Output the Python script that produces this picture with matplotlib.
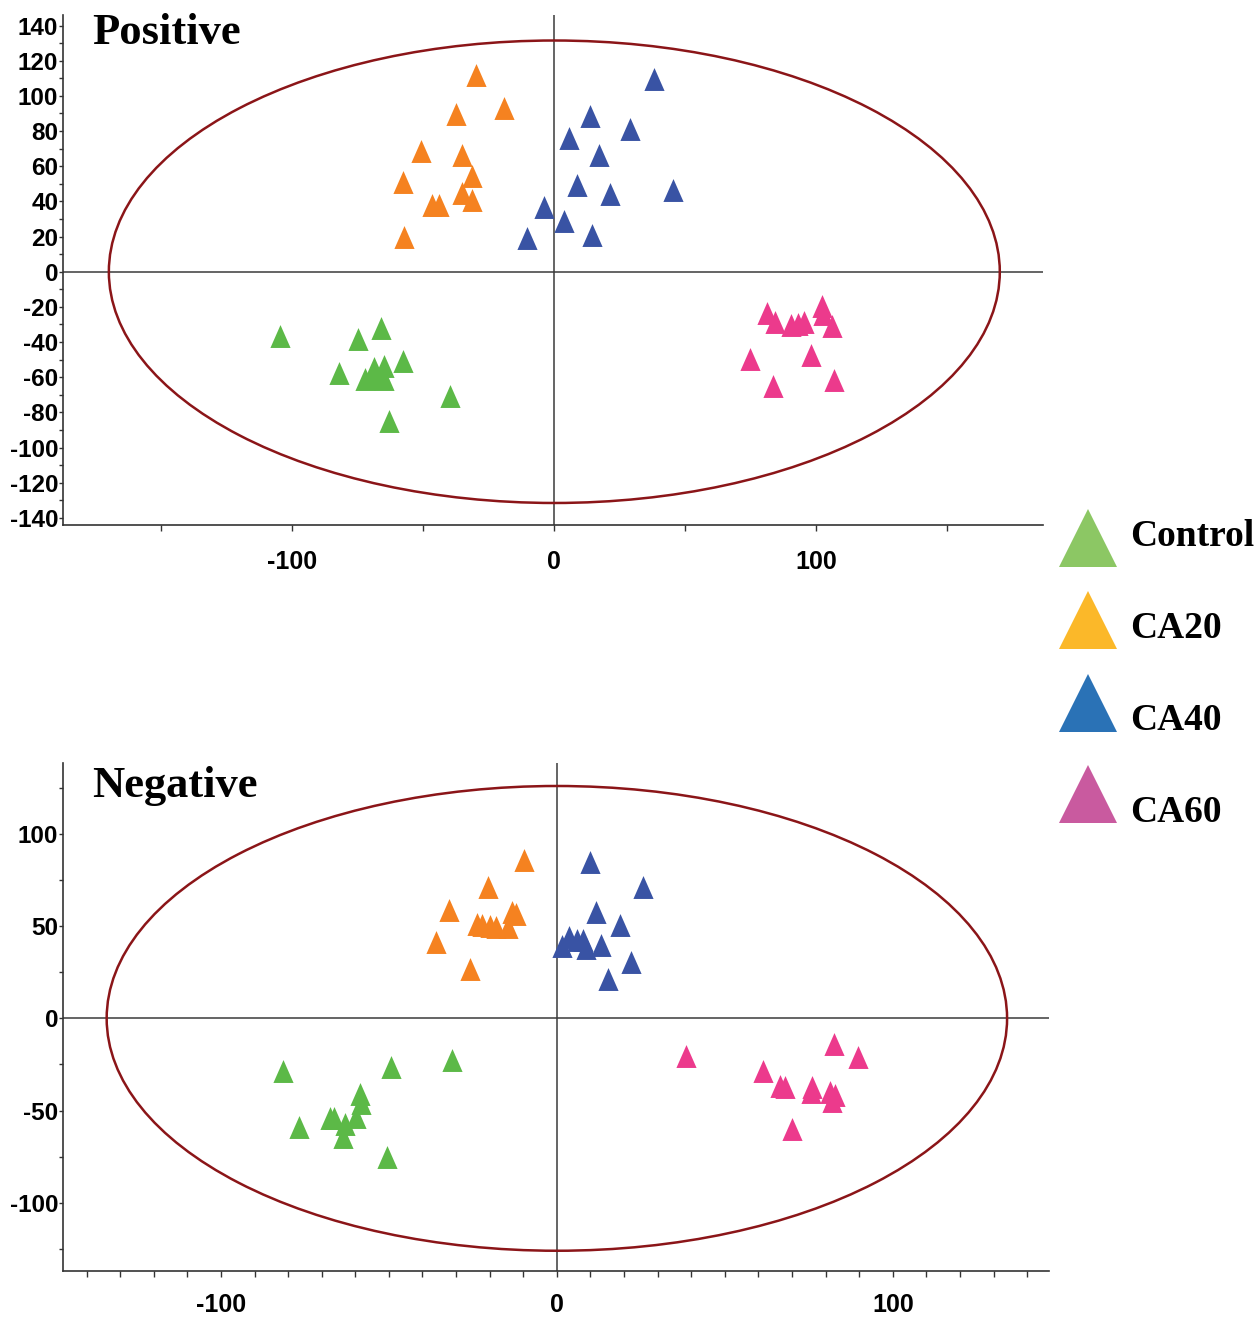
import numpy as np
import matplotlib
matplotlib.use("Agg")
import matplotlib.pyplot as plt
from matplotlib.patches import Ellipse
from matplotlib.lines import Line2D
from matplotlib.ticker import MultipleLocator, FixedLocator

plt.rcParams["font.family"] = ["Liberation Sans", "DejaVu Sans"]
plt.rcParams["font.weight"] = "bold"
plt.rcParams["axes.unicode_minus"] = False

groups = ["Control", "CA20", "CA40", "CA60"]
point_colors = ["#5cb947", "#f58220", "#3953a4", "#ec3a8c"]
legend_colors = ["#8cc764", "#fbb829", "#2a72b6", "#c95a9f"]

# Positive mode scores (t1, t2)
pos_control_x = [-104.8, -66.3, -75.1, -57.9, -82.1, -68.8, -65.0, -72.3, -68.5, -65.0, -39.8, -63.0]
pos_control_y = [-36.7, -32.0, -38.3, -50.6, -57.6, -54.7, -53.8, -61.0, -60.4, -61.0, -70.8, -85.0]
pos_ca20_x = [-29.8, -19.1, -37.6, -50.7, -35.2, -57.7, -31.5, -46.8, -44.0, -35.1, -31.6, -57.4]
pos_ca20_y = [111.9, 93.2, 89.6, 68.8, 66.5, 50.8, 54.7, 38.1, 37.7, 44.7, 40.9, 19.7]
pos_ca40_x = [38.2, 13.6, 28.9, 5.7, 17.0, 8.5, 21.2, 45.2, -3.9, 3.7, -10.3, 14.5]
pos_ca40_y = [109.5, 88.6, 81.1, 76.0, 66.5, 49.4, 44.3, 46.6, 37.1, 28.6, 19.1, 21.0]
pos_ca60_x = [81.0, 84.3, 90.2, 93.0, 95.1, 102.0, 102.4, 105.8, 74.7, 97.9, 83.5, 106.8]
pos_ca60_y = [-23.5, -28.8, -30.1, -29.5, -28.8, -19.7, -23.9, -31.1, -49.4, -47.5, -65.2, -61.4]

# Negative mode scores
neg_control_x = [-81.5, -49.5, -31.1, -76.8, -50.7, -67.6, -66.4, -63.2, -63.7, -59.7, -58.5, -58.2]
neg_control_y = [-28.3, -26.5, -22.4, -58.7, -75.4, -54.0, -54.0, -57.2, -64.5, -53.3, -40.9, -46.0]
neg_ca20_x = [-9.9, -20.5, -32.1, -36.0, -25.9, -23.9, -22.4, -18.0, -14.5, -13.5, -12.2, -20.0]
neg_ca20_y = [85.9, 71.4, 58.7, 41.5, 27.0, 51.1, 50.5, 49.3, 49.3, 57.8, 56.5, 50.0]
neg_ca40_x = [9.8, 25.7, 11.6, 18.8, 22.0, 15.3, 1.4, 3.7, 5.9, 7.8, 8.8, 13.0]
neg_ca40_y = [84.9, 71.4, 57.8, 50.5, 30.6, 21.6, 39.1, 44.2, 42.4, 42.4, 37.9, 39.7]
neg_ca60_x = [38.4, 61.3, 66.4, 67.9, 75.9, 75.6, 81.3, 82.8, 81.8, 82.5, 89.6, 70.1]
neg_ca60_y = [-20.5, -28.3, -36.4, -37.3, -37.3, -40.1, -40.1, -41.8, -44.6, -13.8, -21.0, -59.9]

# Hotelling T2 ellipse half axes
pos_ellipse = (170, 131.5)
neg_ellipse = (134, 126)

tri = [(-0.88, -1), (0.88, -1), (0, 1)]


def draw_panel(ax, xs, ys, ell, xlim, ylim, ymajor, yminor, xminor, title, title_y, xpad):
    ax.axhline(0, color="#3a3a3a", lw=1.1, zorder=1)
    ax.axvline(0, color="#3a3a3a", lw=1.1, zorder=1)
    ax.add_patch(Ellipse((0, 0), 2 * ell[0], 2 * ell[1], fill=False,
                         ec="#8b1518", lw=1.8, zorder=2))
    for x, y, c in zip(xs, ys, point_colors):
        ax.plot(x, y, ls="none", marker=tri, ms=16.5, color=c, mew=0, zorder=3)
    ax.set_xlim(xlim)
    ax.set_ylim(ylim)
    for s in ["top", "right"]:
        ax.spines[s].set_visible(False)
    for s in ["left", "bottom"]:
        ax.spines[s].set_color("#333333")
        ax.spines[s].set_linewidth(1.2)
    ax.xaxis.set_major_locator(FixedLocator([-100, 0, 100]))
    ax.xaxis.set_minor_locator(MultipleLocator(xminor))
    ax.yaxis.set_major_locator(MultipleLocator(ymajor))
    ax.yaxis.set_minor_locator(MultipleLocator(yminor))
    ax.tick_params(axis="x", which="both", direction="out", length=4, width=1,
                   color="#333333", pad=xpad, labelsize=18)
    ax.tick_params(axis="y", which="both", direction="out", length=3, width=1,
                   color="#333333", pad=0.5, labelsize=17.5)
    ax.text(0.03, title_y, title, transform=ax.transAxes, family="Liberation Serif",
            weight="bold", size=32, va="baseline")


fig = plt.figure(figsize=(12.6, 13.17), dpi=100)
ax1 = fig.add_axes([0.05, 0.6014, 0.7778, 0.3872])
ax2 = fig.add_axes([0.05, 0.0349, 0.7826, 0.3858])

draw_panel(ax1,
           [pos_control_x, pos_ca20_x, pos_ca40_x, pos_ca60_x],
           [pos_control_y, pos_ca20_y, pos_ca40_y, pos_ca60_y],
           pos_ellipse, (-187.5, 186.5), (-144, 146), 20, 10, 50, "Positive", 0.943, 14)
draw_panel(ax2,
           [neg_control_x, neg_ca20_x, neg_ca40_x, neg_ca60_x],
           [neg_control_y, neg_ca20_y, neg_ca40_y, neg_ca60_y],
           neg_ellipse, (-147, 146.5), (-137, 138.5), 50, 25, 10, "Negative", 0.933, 11.5)

# legend on the right
W, H = 1260, 1317
marker_y = [538, 620.5, 703, 794]
label_y = [537, 628, 720, 812]
for name, c, my, ly in zip(groups, legend_colors, marker_y, label_y):
    fig.add_artist(Line2D([1087.5 / W], [1 - my / H], transform=fig.transFigure,
                          ls="none", marker="^", ms=41.5, color=c, mew=0))
    fig.text(1130 / W, 1 - ly / H, name, family="Liberation Serif",
             weight="bold", size=27, va="center", ha="left")

fig.savefig("out.png", dpi=100)
